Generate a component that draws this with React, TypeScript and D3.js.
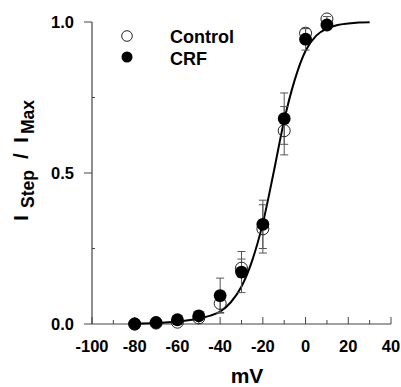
import * as d3 from "d3";

const voltages = [-80, -70, -60, -50, -40, -30, -20, -10, 0, 10];
const controlMean = [0.0, 0.003, 0.006, 0.02, 0.068, 0.185, 0.315, 0.64, 0.963, 1.01];
const controlErr = [0, 0, 0, 0, 0.03, 0.03, 0.08, 0.08, 0.015, 0.008];
const crfMean = [0.0, 0.005, 0.014, 0.027, 0.094, 0.172, 0.33, 0.68, 0.943, 0.99];
const crfErr = [0, 0, 0, 0.008, 0.058, 0.068, 0.08, 0.085, 0.036, 0.01];

// fitted curve
const fitV = [-80, -70, -60, -50, -45, -40, -35, -30, -25, -20, -15, -10, -5, 0, 5, 10, 15, 20, 25, 30];
const fitY = [0.001, 0.003, 0.008, 0.018, 0.027, 0.041, 0.072, 0.124, 0.21, 0.334, 0.5, 0.675, 0.81, 0.905, 0.955, 0.978, 0.99, 0.995, 0.998, 0.999];

const xMajor = [-100, -80, -60, -40, -20, 0, 20, 40];
const xMinor = [-90, -70, -50, -30, -10, 10, 30];
const yMajor = [0, 0.5, 1.0];
const yMinor = [0.25, 0.75];

const W = 401;
const H = 387;
const font = "Arial, 'Liberation Sans', Helvetica, sans-serif";

export default function App() {
  const x = d3.scaleLinear().domain([-100, 40]).range([92, 391]);
  const y = d3.scaleLinear().domain([0, 1]).range([324, 22]);
  const axisColor = "#444";

  const line = d3
    .line<number>()
    .x((_, i) => x(fitV[i]))
    .y((d) => y(d))
    .curve(d3.curveMonotoneX);

  const errBars = (means: number[], errs: number[]) =>
    voltages.map((v, i) => {
      if (!errs[i]) return null;
      const cx = x(v);
      const top = y(means[i] + errs[i]);
      const bot = y(means[i] - errs[i]);
      return (
        <g key={v} stroke="#555" strokeWidth={1}>
          <line x1={cx} x2={cx} y1={top} y2={bot} />
          <line x1={cx - 4} x2={cx + 4} y1={top} y2={top} />
          <line x1={cx - 4} x2={cx + 4} y1={bot} y2={bot} />
        </g>
      );
    });

  return (
    <svg
      width={W}
      height={H}
      style={{ position: "absolute", left: 0, top: 0, background: "#fff" }}
      fontFamily={font}
    >
      {/* axes */}
      <line x1={x(-100)} x2={x(40)} y1={y(0)} y2={y(0)} stroke={axisColor} strokeWidth={1.2} />
      <line x1={x(-100)} x2={x(-100)} y1={y(0)} y2={y(1)} stroke={axisColor} strokeWidth={1.2} />
      {xMajor.map((v) => (
        <g key={v}>
          <line x1={x(v)} x2={x(v)} y1={y(0)} y2={y(0) - 7} stroke={axisColor} />
          <text x={x(v)} y={352} textAnchor="middle" fontSize={16.5} fontWeight="bold">
            {v}
          </text>
        </g>
      ))}
      {xMinor.map((v) => (
        <line key={v} x1={x(v)} x2={x(v)} y1={y(0)} y2={y(0) - 4} stroke={axisColor} />
      ))}
      {yMajor.map((v) => (
        <g key={v}>
          <line x1={x(-100) - 8} x2={x(-100)} y1={y(v)} y2={y(v)} stroke={axisColor} />
          <text x={74} y={y(v) + 6} textAnchor="end" fontSize={16.5} fontWeight="bold">
            {v.toFixed(1)}
          </text>
        </g>
      ))}
      {yMinor.map((v) => (
        <line key={v} x1={x(-100)} x2={x(-100) + 3} y1={y(v)} y2={y(v)} stroke={axisColor} />
      ))}

      {/* axis titles */}
      <text x={247} y={383} textAnchor="middle" fontSize={21} fontWeight="bold">
        mV
      </text>
      <g transform="translate(28,0) rotate(-90)" fontWeight="bold">
        <text x={-221} y={0} fontSize={21}>I</text>
        <text x={-208} y={6} fontSize={17.5}>Step</text>
        <text x={-159} y={0} fontSize={21}>/</text>
        <text x={-143} y={0} fontSize={21}>I</text>
        <text x={-134} y={6} fontSize={17.5}>Max</text>
      </g>

      {/* fit */}
      <path d={line(fitY) ?? ""} fill="none" stroke="#000" strokeWidth={2} />

      {/* data */}
      {errBars(controlMean, controlErr)}
      {errBars(crfMean, crfErr)}
      {voltages.map((v, i) => (
        <circle key={"c" + v} cx={x(v)} cy={y(controlMean[i])} r={6} fill="none" stroke="#222" strokeWidth={1} />
      ))}
      {voltages.map((v, i) => (
        <circle key={"f" + v} cx={x(v)} cy={y(crfMean[i])} r={6.4} fill="#000" />
      ))}

      {/* legend */}
      <circle cx={127} cy={36} r={5.3} fill="#fff" stroke="#222" strokeWidth={1} />
      <circle cx={127} cy={57} r={5.5} fill="#000" />
      <text x={170} y={43} fontSize={18} fontWeight="bold">Control</text>
      <text x={170} y={64.5} fontSize={18} fontWeight="bold">CRF</text>
    </svg>
  );
}
